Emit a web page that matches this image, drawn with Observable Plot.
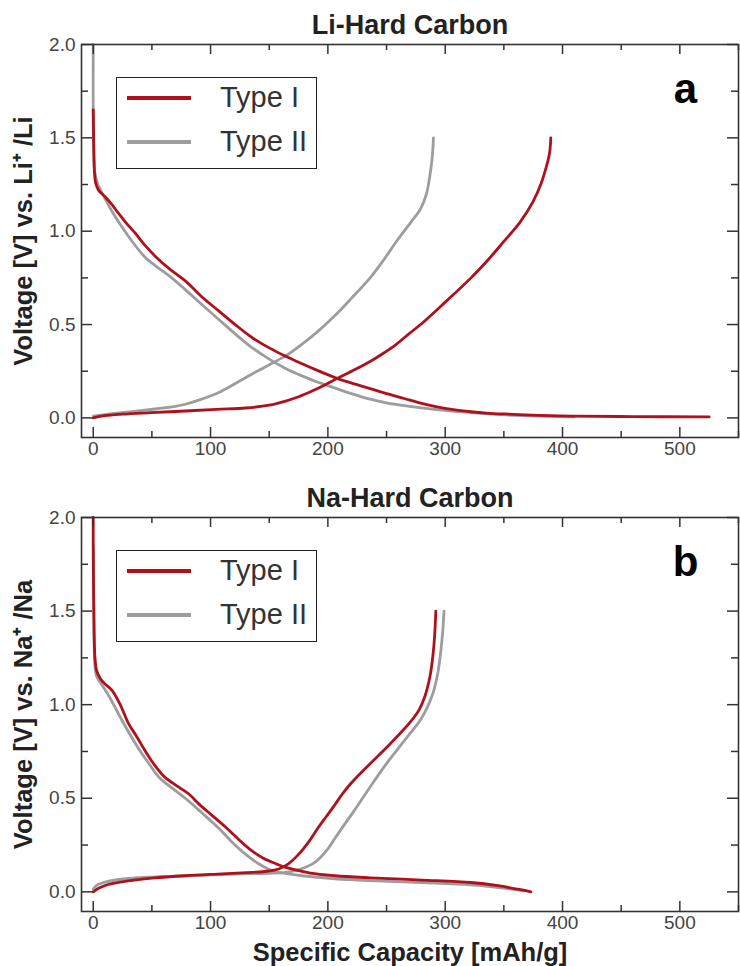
<!DOCTYPE html>
<html>
<head>
<meta charset="utf-8">
<script src="https://cdn.jsdelivr.net/npm/d3@7"></script>
<script src="https://cdn.jsdelivr.net/npm/@observablehq/plot@0.6"></script>
<style>
  body { margin: 0; background: #fff; font-family: "Liberation Sans", Arial, sans-serif; }
  #wrap { position: relative; width: 740px; height: 966px; overflow: hidden; }
  #wrap svg { display: block; }
  .legend { position: absolute; left: 116px; width: 201px; height: 92px; box-sizing: border-box;
            border: 1.5px solid #222; background: #fff; }
  .legend .sw { position: absolute; left: 10px; width: 64px; height: 3.5px; margin-top: -1.75px; }
  .legend .lb { position: absolute; left: 103px; font-size: 29px; line-height: 29px; margin-top: -15px; color: #333; }
</style>
</head>
<body>
<div id="wrap"></div>
<script>
// ---------- data ----------
const seriesNames = ["Type I", "Type II"];
const seriesColors = ["#b0101c", "#9d9d9d"];

const capacityTicks = [0, 100, 200, 300, 400, 500];
const capacityMinorTicks = [50, 150, 250, 350, 450, 550];
const voltageTicks = [0, 0.5, 1.0, 1.5, 2.0];
const voltageMinorTicks = [0.25, 0.75, 1.25, 1.75];

const panelTitles = ["Li-Hard Carbon", "Na-Hard Carbon"];
const panelLetters = ["a", "b"];
const voltageLabels = ["Voltage [V] vs. Li\u207A /Li", "Voltage [V] vs. Na\u207A /Na"];
const capacityLabel = "Specific Capacity [mAh/g]";

// Li-Hard Carbon  [capacity mAh/g, voltage V]
const liType1Discharge = [[0,1.65],[0.5,1.45],[1,1.32],[2,1.26],[4.5,1.22],[10,1.185],[15,1.15],[21.6,1.095],[28,1.045],[36,0.988],[44,0.925],[53,0.865],[65,0.798],[78.5,0.734],[92,0.652],[107,0.573],[121,0.5],[135,0.432],[150,0.375],[164,0.33],[178,0.29],[192,0.252],[206,0.216],[217,0.193],[236,0.157],[250,0.13],[265,0.104],[280,0.078],[293,0.059],[307,0.044],[322,0.033],[335,0.026],[350,0.021],[380,0.014],[407,0.01],[460,0.007],[525,0.005]];
const liType2Discharge = [[0,2.0],[0,1.6],[0.5,1.4],[1.5,1.31],[4,1.25],[10,1.175],[18,1.085],[27,1.0],[35,0.93],[44,0.862],[54,0.81],[64,0.765],[78,0.69],[93,0.605],[107,0.527],[121,0.45],[135,0.378],[150,0.315],[164,0.265],[178,0.225],[191,0.192],[205,0.162],[220,0.13],[236,0.1],[250,0.081],[265,0.066],[293,0.044],[322,0.028],[360,0.013],[410,0.005]];
const liType1Charge = [[0,0.0],[10,0.012],[25,0.02],[49,0.028],[78.5,0.037],[105,0.046],[130,0.053],[150,0.068],[164,0.09],[175,0.113],[187,0.145],[197,0.175],[206,0.205],[221,0.252],[236,0.302],[247,0.345],[258,0.393],[268,0.445],[279,0.5],[300,0.62],[322,0.75],[337,0.85],[350,0.945],[364,1.05],[375,1.16],[382,1.26],[386,1.34],[389,1.42],[390,1.5]];
const liType2Charge = [[0,0.01],[20,0.025],[49,0.045],[70,0.062],[78.5,0.073],[90,0.095],[107,0.136],[120,0.18],[135,0.234],[150,0.285],[164,0.332],[178,0.395],[192,0.466],[206,0.548],[220,0.64],[236,0.75],[248,0.85],[259,0.95],[271,1.05],[279,1.12],[284,1.2],[287,1.3],[289,1.4],[290,1.5]];

// Na-Hard Carbon
const naType1Discharge = [[0,2.0],[0,1.85],[0.5,1.5],[1.5,1.25],[3,1.18],[6,1.14],[10,1.11],[16,1.077],[23,1.0],[30,0.9],[37,0.83],[44,0.756],[52,0.68],[61,0.613],[73,0.559],[82,0.52],[90,0.47],[101,0.41],[113,0.345],[124,0.28],[135,0.22],[145,0.18],[153,0.157],[161,0.137],[170,0.121],[185,0.1],[206,0.086],[236,0.075],[280,0.063],[322,0.05],[345,0.033],[362,0.014],[373,0.0]];
const naType2Discharge = [[0,1.85],[0.5,1.5],[1.5,1.2],[3,1.15],[8,1.1],[14,1.04],[21.6,0.95],[30,0.855],[38.7,0.765],[47,0.69],[55.7,0.615],[67,0.555],[78.5,0.5],[93,0.42],[107,0.34],[118,0.268],[130,0.2],[141,0.15],[152.5,0.113],[165,0.097],[178,0.086],[206,0.07],[236,0.06],[280,0.05],[322,0.038],[350,0.02],[367,0.005]];
const naType1Charge = [[0,0.0],[5,0.02],[12,0.038],[21.6,0.05],[35,0.063],[50,0.073],[78.5,0.086],[110,0.096],[135,0.104],[148,0.11],[158,0.122],[166,0.148],[175,0.2],[184,0.27],[192,0.345],[199,0.405],[206.5,0.47],[212,0.52],[219,0.575],[228,0.635],[236,0.685],[253,0.79],[270,0.905],[278,0.975],[283,1.05],[287,1.15],[289.5,1.26],[291,1.37],[292,1.5]];
const naType2Charge = [[0,0.015],[3,0.035],[10,0.052],[21.6,0.066],[50,0.079],[78.5,0.086],[120,0.095],[164,0.104],[176,0.12],[186.6,0.148],[193,0.18],[200,0.23],[206.5,0.29],[213,0.35],[222,0.43],[229,0.495],[236,0.56],[247,0.66],[258,0.75],[268,0.83],[279,0.92],[285,0.99],[290,1.07],[294,1.18],[296.5,1.3],[298,1.4],[299,1.5]];

const capacityDomain = [-10, 550];
const voltageDomain = [-0.105, 2.0];

// ---------- drawing ----------
const FONT = "Liberation Sans, Arial, Helvetica, sans-serif";
const INK = "#333";

function rows(curves) {
  const out = [];
  curves.forEach(([name, id, pts]) => pts.forEach(([c, v]) => out.push({cap: c, v, type: name, id})));
  return out;
}

function panel(idx, curves, height, marginTop, marginBottom, showXLabel) {
  const marginLeft = 81, marginRight = 2, width = 740;
  const innerW = width - marginLeft - marginRight;
  const innerH = height - marginTop - marginBottom;
  const data = rows(curves);
  const grayData = data.filter(d => d.type === seriesNames[1]);
  const redData = data.filter(d => d.type === seriesNames[0]);
  const marks = [
    Plot.line(grayData, {x: "cap", y: "v", z: "id", stroke: "type", strokeWidth: 2.8, curve: "catmull-rom"}),
    Plot.line(redData, {x: "cap", y: "v", z: "id", stroke: "type", strokeWidth: 2.8, curve: "catmull-rom"}),
    Plot.frame({stroke: INK, strokeWidth: 1.6}),
    // inward ticks, bottom & top
    Plot.tickX(capacityTicks, {x: d => d, stroke: INK, strokeWidth: 1.5, insetTop: innerH - 10}),
    Plot.tickX(capacityMinorTicks, {x: d => d, stroke: INK, strokeWidth: 1.5, insetTop: innerH - 6}),
    Plot.tickX(capacityTicks, {x: d => d, stroke: INK, strokeWidth: 1.5, insetBottom: innerH - 10}),
    Plot.tickX(capacityMinorTicks, {x: d => d, stroke: INK, strokeWidth: 1.5, insetBottom: innerH - 6}),
    // inward ticks, left & right
    Plot.tickY(voltageTicks, {y: d => d, stroke: INK, strokeWidth: 1.5, insetRight: innerW - 11}),
    Plot.tickY(voltageMinorTicks, {y: d => d, stroke: INK, strokeWidth: 1.5, insetRight: innerW - 7}),
    Plot.tickY(voltageTicks, {y: d => d, stroke: INK, strokeWidth: 1.5, insetLeft: innerW - 11}),
    Plot.tickY(voltageMinorTicks, {y: d => d, stroke: INK, strokeWidth: 1.5, insetLeft: innerW - 7}),
    Plot.axisX(capacityTicks, {tickSize: 0, tickPadding: 4, fontSize: 19, color: "#444", label: null}),
    Plot.axisY(voltageTicks, {tickSize: 0, tickPadding: 6, fontSize: 19, color: "#444", label: null, tickFormat: d3.format(".1f")}),
    Plot.text([panelTitles[idx]], {text: d => d, frameAnchor: "top", dy: -19, lineAnchor: "middle",
      fontSize: 27, fontWeight: "bold", fill: "#222", fontFamily: FONT}),
    Plot.text([panelLetters[idx]], {text: d => d, frameAnchor: "top-right", dx: -53, dy: 45, textAnchor: "middle",
      lineAnchor: "middle", fontSize: 42, fontWeight: "bold", fill: "#000", fontFamily: FONT}),
    Plot.text([voltageLabels[idx]], {text: d => d, frameAnchor: "left", dx: -58, rotate: -90, textAnchor: "middle",
      lineAnchor: "middle", fontSize: 25.5, fontWeight: "bold", fill: "#222", fontFamily: FONT})
  ];
  if (showXLabel) {
    marks.push(Plot.text([capacityLabel], {text: d => d, frameAnchor: "bottom", dy: 41, lineAnchor: "middle",
      fontSize: 25.5, fontWeight: "bold", fill: "#222", fontFamily: FONT}));
  }
  return Plot.plot({
    width, height, marginLeft, marginRight, marginTop, marginBottom,
    style: {fontFamily: FONT, background: "#fff", overflow: "visible"},
    x: {domain: capacityDomain, axis: null},
    y: {domain: voltageDomain, axis: null},
    color: {domain: seriesNames, range: seriesColors},
    marks
  });
}

function legend(top) {
  const box = document.createElement("div");
  box.className = "legend";
  box.style.top = top + "px";
  seriesNames.forEach((name, i) => {
    const cy = 20 + 44 * i;
    const sw = document.createElement("div");
    sw.className = "sw";
    sw.style.top = cy + "px";
    sw.style.background = seriesColors[i];
    const lb = document.createElement("div");
    lb.className = "lb";
    lb.style.top = cy + "px";
    lb.textContent = name;
    box.append(sw, lb);
  });
  return box;
}

const wrap = document.getElementById("wrap");
const plotA = panel(0, [
  [seriesNames[0], "liD1", liType1Discharge],
  [seriesNames[0], "liC1", liType1Charge],
  [seriesNames[1], "liD2", liType2Discharge],
  [seriesNames[1], "liC2", liType2Charge]
], 475, 44, 38, false);
const plotB = panel(1, [
  [seriesNames[0], "naD1", naType1Discharge],
  [seriesNames[0], "naC1", naType1Charge],
  [seriesNames[1], "naD2", naType2Discharge],
  [seriesNames[1], "naC2", naType2Charge]
], 491, 42, 55, true);
wrap.append(plotA, plotB, legend(77), legend(550));
</script>
</body>
</html>
